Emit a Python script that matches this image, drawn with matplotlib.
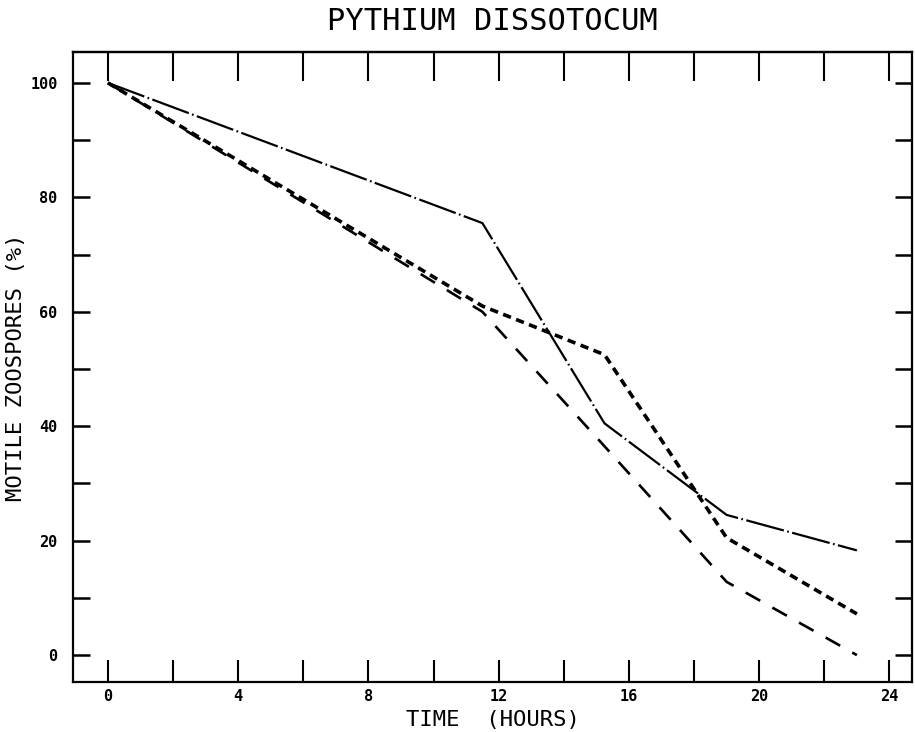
import matplotlib
matplotlib.use('Agg')
import matplotlib.pyplot as plt

# Data (time in hours, motile zoospores in %)
hours = [0, 11.5, 15.25, 19, 23]
dashdot_vals = [100, 75.5, 40.5, 24.5, 18.3]
short_dash_vals = [100, 61, 52.5, 20.5, 7.2]
long_dash_vals = [100, 60, 36.5, 12.8, 0]

x_ticks = list(range(0, 25, 2))
x_labels = [str(t) if t % 4 == 0 else '' for t in x_ticks]
y_ticks = list(range(0, 101, 10))
y_labels = [str(v) if v % 20 == 0 else '' for v in y_ticks]

plt.rcParams['font.family'] = 'DejaVu Sans Mono'
plt.rcParams['lines.scale_dashes'] = False

fig = plt.figure(figsize=(9.15, 7.32), dpi=100)
ax = fig.add_axes([0.0798, 0.0683, 0.9172, 0.8607])

ax.plot(hours, dashdot_vals, color='black', lw=1.6, dashes=(28, 2.5, 1.2, 2.5))
ax.plot(hours, short_dash_vals, color='black', lw=2.6, dashes=(6, 4))
ax.plot(hours, long_dash_vals, color='black', lw=1.9, dashes=(12, 10))

ax.set_xlim(-1.07, 24.7)
ax.set_ylim(-4.7, 105.4)

ax.set_xticks(x_ticks)
ax.set_xticklabels(x_labels, fontsize=11, fontweight='bold')
ax.set_yticks(y_ticks)
ax.set_yticklabels(y_labels, fontsize=11, fontweight='bold')

ax.tick_params(axis='x', direction='in', length=16, width=1.5, pad=5, bottom=True, top=False)
ax.tick_params(axis='y', direction='in', length=12, width=1.8, pad=11, left=True, right=True)

top = ax.secondary_xaxis('top')
top.set_xticks(x_ticks)
top.set_xticklabels([])
top.tick_params(direction='in', length=21, width=1.5)
top.spines['top'].set_linewidth(1.6)

for s in ax.spines.values():
    s.set_linewidth(1.6)

ax.set_title('PYTHIUM DISSOTOCUM', fontsize=22, pad=16)
ax.set_xlabel('TIME  (HOURS)', fontsize=16, labelpad=4)
ax.set_ylabel('MOTILE ZOOSPORES (%)', fontsize=16, labelpad=3)

fig.savefig('out.png', dpi=100)
